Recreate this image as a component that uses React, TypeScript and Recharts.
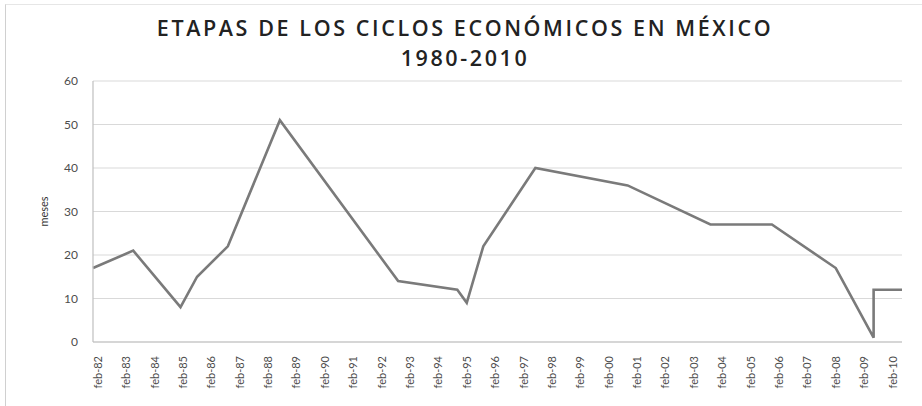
import React from 'react';
import { LineChart, Line, XAxis, YAxis, CartesianGrid } from 'recharts';

// x = months counted from dec-81 (feb-82 = 2)
const meses = [0, 17, 37, 44, 57, 79, 129, 154, 158, 165, 187, 226, 261, 287, 314, 330, 330, 342];
const duracion = [17, 21, 8, 15, 22, 51, 14, 12, 9, 22, 40, 36, 27, 27, 17, 1, 12, 12];

const etiquetas = [
  'feb-82', 'feb-83', 'feb-84', 'feb-85', 'feb-86', 'feb-87', 'feb-88', 'feb-89', 'feb-90', 'feb-91',
  'feb-92', 'feb-93', 'feb-94', 'feb-95', 'feb-96', 'feb-97', 'feb-98', 'feb-99', 'feb-00', 'feb-01',
  'feb-02', 'feb-03', 'feb-04', 'feb-05', 'feb-06', 'feb-07', 'feb-08', 'feb-09', 'feb-10',
];
const ticksX = etiquetas.map((_, i) => 2 + i * 12);
const ticksY = [0, 10, 20, 30, 40, 50, 60];

const data = meses.map((m, i) => ({ mes: m, valor: duracion[i] }));

const FONT = 'Lato, "Open Sans", sans-serif';

const titleStyle: React.CSSProperties = {
  position: 'absolute',
  left: 0,
  width: 930,
  textAlign: 'center',
  fontFamily: '"Open Sans", Lato, sans-serif',
  fontWeight: 600,
  fontSize: 21.5,
  letterSpacing: 2.6,
  lineHeight: '30px',
  color: '#222',
  whiteSpace: 'nowrap',
};

const TickX = (props: any) => {
  const { x, y, payload } = props;
  const idx = ticksX.indexOf(payload.value);
  return (
    <text
      x={x}
      y={y}
      transform={`rotate(-90, ${x}, ${y})`}
      dx={-6}
      dy={4}
      textAnchor="end"
      fontSize={11}
      fontFamily={FONT}
      fill="#4d4d4d"
    >
      {idx >= 0 ? etiquetas[idx] : ''}
    </text>
  );
};

export default function App() {
  return (
    <div style={{ position: 'absolute', left: 0, top: 0, width: 922, height: 406, background: '#fff' }}>
      <div
        style={{
          position: 'absolute',
          left: 5,
          top: 4,
          width: 930,
          height: 420,
          borderLeft: '1.5px solid #d0d0d0',
          borderTop: '1.5px solid #e6e6e6',
        }}
      />
      <div style={{ ...titleStyle, top: 13 }}>ETAPAS DE LOS CICLOS ECONÓMICOS EN MÉXICO</div>
      <div style={{ ...titleStyle, top: 43 }}>1980-2010</div>
      <div style={{ position: 'absolute', left: 0, top: 0 }}>
        <LineChart width={922} height={406} data={data} margin={{ top: 81, right: 20, bottom: 4, left: 0 }}>
          <CartesianGrid vertical={false} stroke="#d9d9d9" strokeWidth={1.2} />
          <XAxis
            dataKey="mes"
            type="number"
            domain={[0, 342]}
            ticks={ticksX}
            interval={0}
            tick={<TickX />}
            tickLine={false}
            axisLine={{ stroke: '#bfbfbf', strokeWidth: 1.2 }}
            height={60}
          />
          <YAxis
            type="number"
            domain={[0, 60]}
            ticks={ticksY}
            interval={0}
            width={93}
            tickLine={false}
            tickMargin={9}
            axisLine={{ stroke: '#bfbfbf', strokeWidth: 1.2 }}
            tick={{ fontSize: 12, fontFamily: FONT, fill: '#4d4d4d' }}
            label={{
              value: 'meses',
              angle: -90,
              position: 'insideLeft',
              offset: 44,
              style: { fontSize: 11, fontFamily: FONT, fill: '#333', textAnchor: 'middle' },
            }}
          />
          <Line
            type="linear"
            dataKey="valor"
            stroke="#7a7a7a"
            strokeWidth={2.6}
            dot={false}
            isAnimationActive={false}
          />
        </LineChart>
      </div>
    </div>
  );
}
